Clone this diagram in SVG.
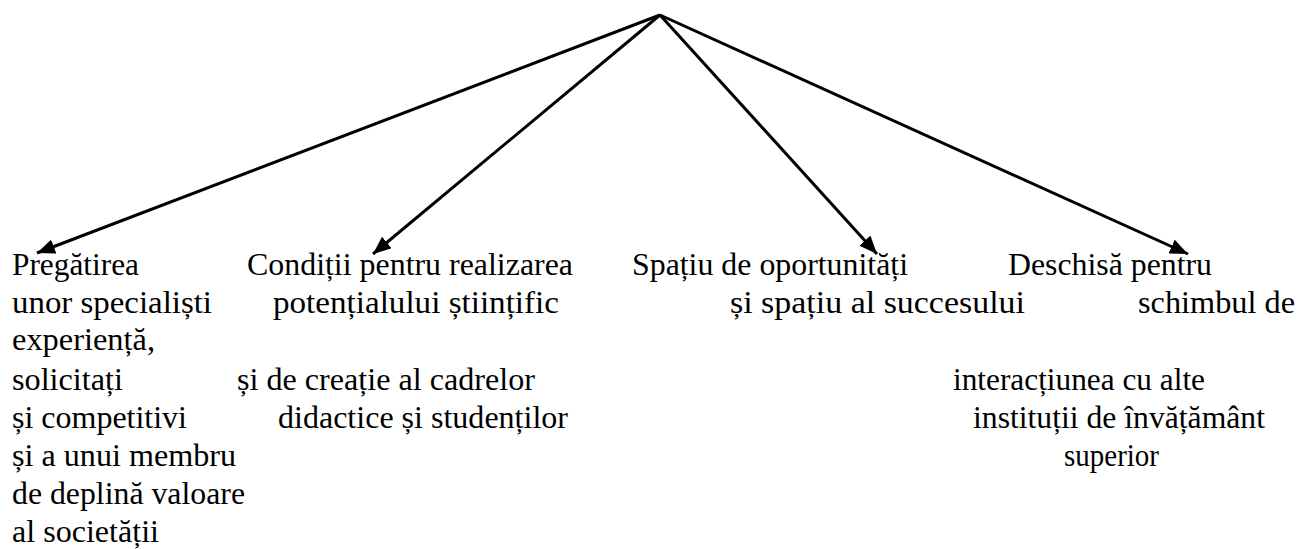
<svg xmlns="http://www.w3.org/2000/svg" width="1301" height="549" viewBox="0 0 1301 549">
  <style>
    text { font-family: "Liberation Serif", "Times New Roman", serif; font-size: 31.5px; fill: #000; }
    .edge { stroke: #000; stroke-width: 3; fill: none; marker-end: url(#arrow); }
  </style>
  <defs>
    <marker id="arrow" markerUnits="userSpaceOnUse" markerWidth="19" markerHeight="15" refX="18" refY="7.5" orient="auto">
      <path d="M0,0 L18,7.5 L0,15 z" fill="#000"/>
    </marker>
  </defs>
  <rect x="0" y="0" width="1301" height="549" fill="#fff"/>
  <g id="connectors">
    <line class="edge" x1="660" y1="15" x2="37" y2="253"/>
    <line class="edge" x1="660" y1="15" x2="373" y2="254"/>
    <line class="edge" x1="660" y1="15" x2="877" y2="254"/>
    <line class="edge" x1="660" y1="15" x2="1188" y2="254"/>
  </g>
  <g id="node-pregatirea">
    <text x="12" y="275" textLength="127" lengthAdjust="spacingAndGlyphs">Pregătirea</text>
    <text x="12" y="313" textLength="200" lengthAdjust="spacingAndGlyphs">unor specialiști</text>
    <text x="12" y="350" textLength="143" lengthAdjust="spacingAndGlyphs">experiență,</text>
    <text x="12" y="390" textLength="111" lengthAdjust="spacingAndGlyphs">solicitați</text>
    <text x="12" y="428" textLength="175" lengthAdjust="spacingAndGlyphs">și competitivi</text>
    <text x="12" y="466" textLength="224" lengthAdjust="spacingAndGlyphs">și a unui membru</text>
    <text x="12" y="504" textLength="233" lengthAdjust="spacingAndGlyphs">de deplină valoare</text>
    <text x="12" y="542" textLength="147" lengthAdjust="spacingAndGlyphs">al societății</text>
  </g>
  <g id="node-conditii">
    <text x="247" y="275" textLength="326" lengthAdjust="spacingAndGlyphs">Condiții pentru realizarea</text>
    <text x="273" y="313" textLength="286" lengthAdjust="spacingAndGlyphs">potențialului științific</text>
    <text x="237" y="390" textLength="298" lengthAdjust="spacingAndGlyphs">și de creație al cadrelor</text>
    <text x="278" y="428" textLength="290" lengthAdjust="spacingAndGlyphs">didactice și studenților</text>
  </g>
  <g id="node-spatiu">
    <text x="632" y="275" textLength="276" lengthAdjust="spacingAndGlyphs">Spațiu de oportunități</text>
    <text x="730" y="313" textLength="295" lengthAdjust="spacingAndGlyphs">și spațiu al succesului</text>
  </g>
  <g id="node-deschisa">
    <text x="1008" y="275" textLength="204" lengthAdjust="spacingAndGlyphs">Deschisă pentru</text>
    <text x="1138" y="313" textLength="157" lengthAdjust="spacingAndGlyphs">schimbul de</text>
    <text x="953" y="390" textLength="252" lengthAdjust="spacingAndGlyphs">interacțiunea cu alte</text>
    <text x="973" y="428" textLength="292" lengthAdjust="spacingAndGlyphs">instituții de învățământ</text>
    <text x="1064" y="466" textLength="95" lengthAdjust="spacingAndGlyphs">superior</text>
  </g>
</svg>
